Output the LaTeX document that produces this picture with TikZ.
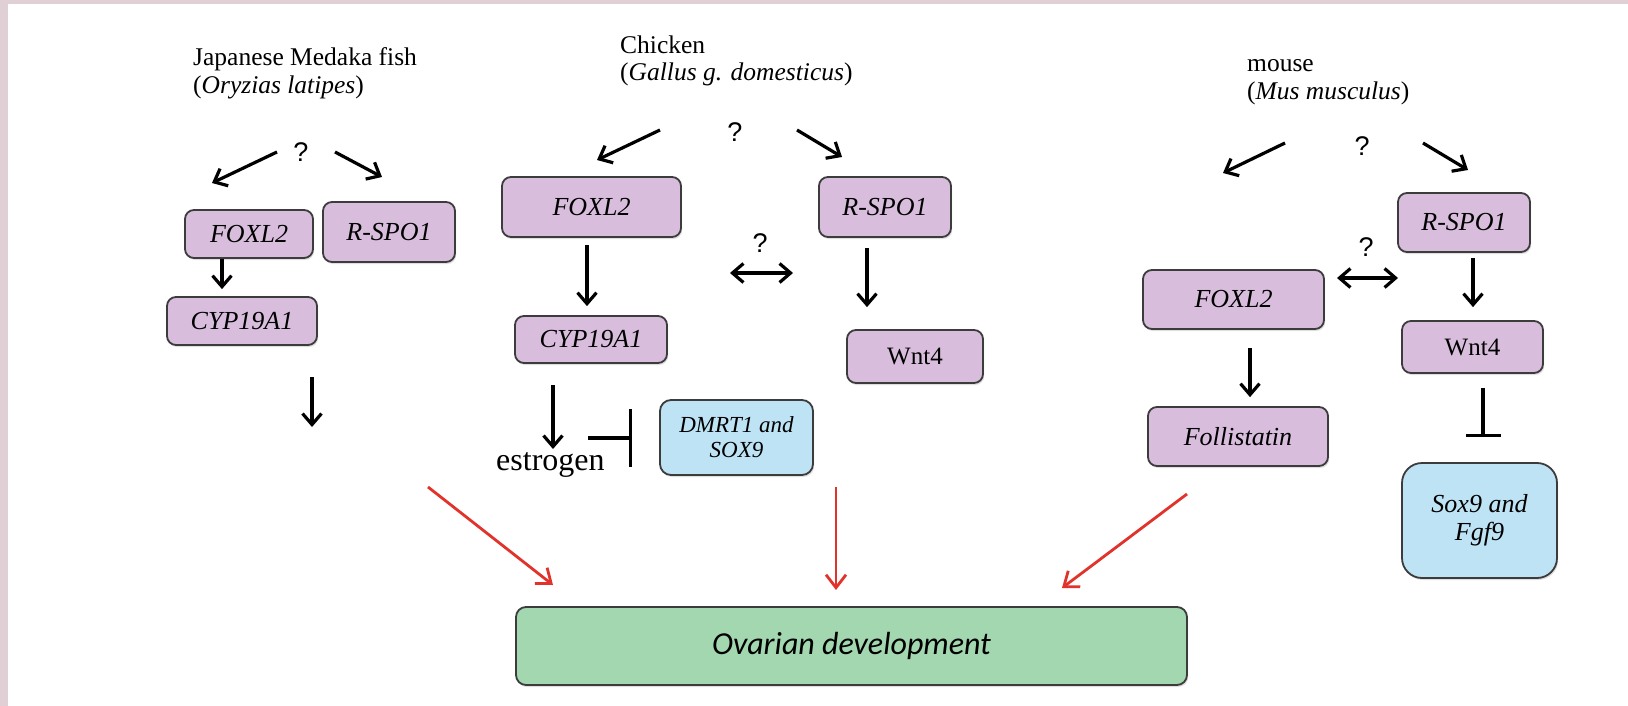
\documentclass[tikz,border=0pt]{standalone}
\usepackage{fontspec}
\setmainfont{Liberation Serif}
\newfontfamily\calib{Carlito}
\newfontfamily\sansq{Liberation Sans}
\usetikzlibrary{arrows.meta,shadows}
\definecolor{pinkbg}{HTML}{E0D0D6}
\definecolor{purp}{HTML}{D8BDDD}
\definecolor{bluebx}{HTML}{BEE3F5}
\definecolor{greenbx}{HTML}{A2D7B0}
\definecolor{redarr}{HTML}{E1332B}
\definecolor{edgec}{HTML}{3C3C3C}
\tikzset{
  boxbase/.style={draw=edgec, line width=1.8pt, inner sep=0pt, align=center,
    drop shadow={shadow xshift=1.2pt, shadow yshift=-2pt, opacity=0.25}},
  gene/.style={boxbase, fill=purp, rounded corners=9pt, font=\fontsize{26}{30}\selectfont\itshape},
  geneup/.style={gene, font=\fontsize{25}{28}\selectfont\upshape},
  repr/.style={boxbase, fill=bluebx, rounded corners=11pt},
  ovary/.style={boxbase, fill=greenbx, rounded corners=10pt, font=\calib\fontsize{32}{34}\selectfont\itshape},
  title/.style={inner sep=0pt, anchor=base west, font=\fontsize{25.5}{30}\selectfont},
  qmark/.style={inner sep=0pt, font=\sansq\fontsize{27}{30}\selectfont},
  arr/.style={line width=3.2pt, -{Straight Barb[length=11pt,width=19pt]}},
  dbl/.style={line width=3.2pt, {Straight Barb[length=11pt,width=19pt]}-{Straight Barb[length=11pt,width=19pt]}},
  redar/.style={line width=2.8pt, draw=redarr, -{Straight Barb[length=13pt,width=20pt]}},
  inhib/.style={line width=3.2pt},
}
\begin{document}
\begin{tikzpicture}[x=1pt,y=-1pt]
\useasboundingbox (0,0) rectangle (1628,706);
\fill[white] (0,0) rectangle (1628,706);
\fill[pinkbg] (0,0) rectangle (1628,4);
\fill[pinkbg] (0,0) rectangle (8,706);

% ---------------- Medaka ----------------
\node[title] (mT1) at (193,66) {Japanese Medaka fish};
\node[title] (mT2) at (193,94) {(\textit{Oryzias latipes})};
\node[qmark] (mQ) at (301,152) {?};
\node[gene, minimum width=128pt, minimum height=48pt] (mFox) at (249,234) {FOXL2};
\node[gene, minimum width=132pt, minimum height=60pt] (mRsp) at (389,232) {R-SPO1};
\node[gene, minimum width=150pt, minimum height=48pt] (mCyp) at (242,321) {CYP19A1};
\coordinate (mA1) at (277,152); \coordinate (mA1e) at (212,183);
\coordinate (mA2) at (335,152); \coordinate (mA2e) at (382,177);
\draw[arr] (mA1) -- (mA1e);
\draw[arr] (mA2) -- (mA2e);
\draw[arr, shorten >=7pt] ([xshift=-27pt]mFox.south) -- ([xshift=-20pt]mCyp.north);
\coordinate (mD) at (312,377); \coordinate (mDe) at (312,427);
\draw[arr] (mD) -- (mDe);

% ---------------- Chicken ----------------
\node[title] (cT1) at (620,54) {Chicken};
\node[title] (cT2) at (620,81) {(\textit{Gallus g. domesticus})};
\node[qmark] (cQ) at (735,132) {?};
\node[gene, minimum width=179pt, minimum height=60pt] (cFox) at (591.5,207) {FOXL2};
\node[gene, minimum width=132pt, minimum height=60pt] (cRsp) at (885,207) {R-SPO1};
\node[qmark] (cQ2) at (760,243) {?};
\node[gene, minimum width=152pt, minimum height=47pt] (cCyp) at (591,339.5) {CYP19A1};
\node[geneup, minimum width=136pt, minimum height=53pt] (cWnt) at (915,356.5) {Wnt4};
\node[repr, minimum width=153pt, minimum height=75pt, font=\fontsize{23}{25}\selectfont\itshape] (cDm) at (736.5,437.5) {DMRT1 and\\SOX9};
\node[inner sep=0pt, anchor=base west, font=\fontsize{32}{36}\selectfont] (est) at (496,470) {estrogen};
\coordinate (cA1) at (660,130); \coordinate (cA1e) at (597,160);
\coordinate (cA2) at (797,130); \coordinate (cA2e) at (842,157);
\draw[arr] (cA1) -- (cA1e);
\draw[arr] (cA2) -- (cA2e);
\coordinate (cB1) at (730,273); \coordinate (cB2) at (793,273);
\draw[dbl] (cB1) -- (cB2);
\draw[arr, shorten <=7pt, shorten >=9pt] ([xshift=-4.5pt]cFox.south) -- ([xshift=-4pt]cCyp.north);
\draw[arr, shorten <=10pt, shorten >=22pt] ([xshift=-18pt]cRsp.south) -- ([xshift=-48pt]cWnt.north);
\coordinate (cE) at (553,385); \coordinate (cEe) at (553,449);
\draw[arr] (cE) -- (cEe);
\coordinate (cI) at (588,438); \coordinate (cIe) at (632,438);
\draw[inhib, -{Bar[width=58pt,line width=3.2pt]}] (cI) -- (cIe);

% ---------------- Mouse ----------------
\node[title] (uT1) at (1247,72) {mouse};
\node[title] (uT2) at (1247,100) {(\textit{Mus musculus})};
\node[qmark] (uQ) at (1362,146) {?};
\node[gene, minimum width=132pt, minimum height=59pt] (uRsp) at (1464,222.5) {R-SPO1};
\node[qmark] (uQ2) at (1366,247) {?};
\node[gene, minimum width=181pt, minimum height=59pt] (uFox) at (1233.5,299.5) {FOXL2};
\node[gene, minimum width=180pt, minimum height=59pt] (uFol) at (1238,436.5) {Follistatin};
\node[geneup, minimum width=141pt, minimum height=52pt] (uWnt) at (1472.5,347) {Wnt4};
\node[repr, rounded corners=20pt, minimum width=155pt, minimum height=115pt, font=\fontsize{26}{28}\selectfont\itshape] (uSox) at (1479.5,520.5) {Sox9 and\\Fgf9};
\coordinate (uA1) at (1285,143); \coordinate (uA1e) at (1223,173);
\coordinate (uA2) at (1423,143); \coordinate (uA2e) at (1468,170);
\draw[arr] (uA1) -- (uA1e);
\draw[arr] (uA2) -- (uA2e);
\coordinate (uB1) at (1337,278); \coordinate (uB2) at (1398,278);
\draw[dbl] (uB1) -- (uB2);
\draw[arr, shorten <=18pt, shorten >=9pt] ([xshift=16.5pt]uFox.south) -- ([xshift=12pt]uFol.north);
\draw[arr, shorten <=5pt, shorten >=13pt] ([xshift=9pt]uRsp.south) -- ([xshift=0.5pt]uWnt.north);
\draw[inhib, shorten <=14pt, shorten >=25pt, -{Bar[width=35pt,line width=3.2pt]}] ([xshift=10.5pt]uWnt.south) -- ([xshift=3.5pt]uSox.north);

% ---------------- Ovarian development ----------------
\node[ovary, minimum width=671pt, minimum height=78pt] (ova) at (851.5,646) {Ovarian development};
\coordinate (rL) at (428,487); \coordinate (rLe) at (553,585);
\coordinate (rM) at (836,487); \coordinate (rMe) at (836,590);
\coordinate (rR) at (1187,494); \coordinate (rRe) at (1062,588);
\draw[redar] (rL) -- (rLe);
\draw[redar] (rM) -- (rMe);
\draw[redar] (rR) -- (rRe);
\end{tikzpicture}
\end{document}
